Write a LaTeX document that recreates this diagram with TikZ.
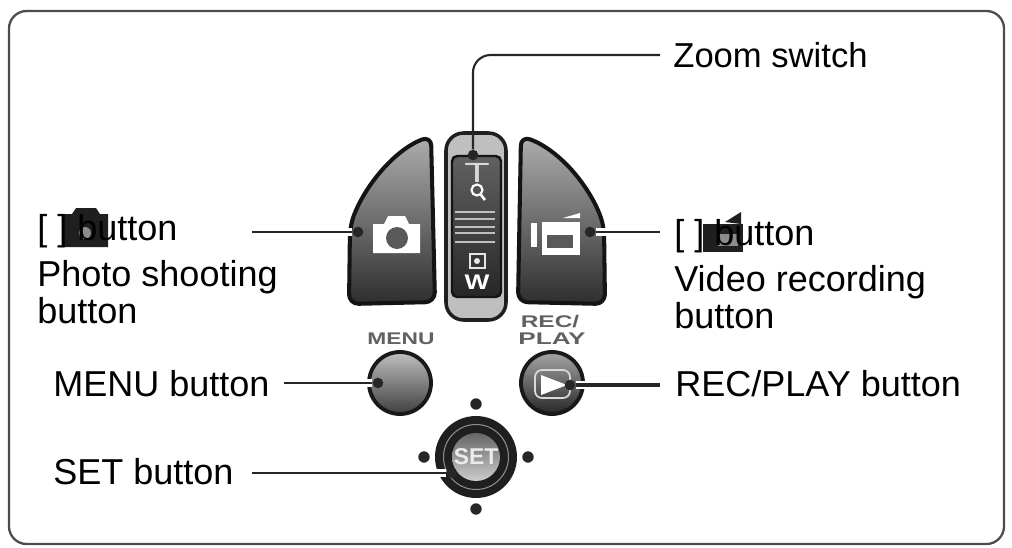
\documentclass[tikz,border=0pt]{standalone}
\usepackage{fontspec}
\setmainfont{Liberation Sans}
\usetikzlibrary{arrows}
\tikzset{
  label text/.style={anchor=base west,inner sep=0pt,black,font=\fontsize{20.5}{22}\selectfont},
  key face/.style={draw=black!92,line width=2.3pt,top color=black!32,bottom color=black!82,rounded corners=5.5pt},
  round key/.style={circle,draw=black!90,line width=2.2pt,minimum size=1.24cm,inner sep=0pt},
  leader/.style={black!85,line width=1.2pt},
  halo/.style={white,line width=5pt},
  lead dot/.style={circle,fill=black!85,inner sep=0pt,minimum size=6pt},
  set dot/.style={circle,fill=black!85,inner sep=0pt,minimum size=6.5pt},
  key print/.style={inner sep=0pt,black!62,font=\fontsize{9.6}{10}\selectfont\bfseries,transform shape},
  icon white/.style={fill=white,draw=none},
  icon dark/.style={fill=black!88,draw=none}
}
\begin{document}
\begin{tikzpicture}[x=0.02cm,y=-0.02cm]
    \useasboundingbox (0,0) rectangle (1012,548);
    \draw[black!70, line width=1.3pt, rounded corners=10pt] (9,11) rectangle (1004,544);

    % photo key
    \draw[key face] (350,226) .. controls (365,185) and (395,150) .. (431,136) -- (435,302) -- (349,304) -- cycle;
    \path[icon white] (373,224) -- (384,224) -- (388,216) -- (405,216) -- (409,224) -- (420,224) -- (420,253) -- (373,253) -- cycle;
    \fill[black!65] (397,238) circle (11);

    % video key
    \draw[key face] (604,226) .. controls (589,185) and (559,150) .. (521,136) -- (518,302) -- (605,304) -- cycle;
    \path[icon white] (542,222) rectangle (580,255);
    \path[icon white] (531,223) rectangle (537,247);
    \path[icon white] (563,218) -- (580,213) -- (580,218) -- cycle;
    \fill[black!65] (547,235) rectangle (573,248);

    % zoom switch
    \draw[black!88, line width=2pt, fill=black!25, rounded corners=10pt] (446,133) rectangle (506,320);
    \draw[black!92, line width=1.4pt, top color=black!62, bottom color=black!85, rounded corners=3pt] (452,156) rectangle (501,297);
    \node (teeletter) at (477,173) [inner sep=0pt,black!15,xscale=1.5,transform shape,font=\fontsize{15.8}{16}\selectfont] {T};
    \draw[white, line width=1.2pt] (477,190) circle (5.5);
    \draw[white, line width=1.5pt] (481,195) -- (485,200);
    \foreach \y in {212,219,227,233,242}
      \draw[black!25, line width=1pt] (455,\y) -- (495,\y);
    \draw[black!10, line width=0.7pt] (470,254) rectangle (485,268);
    \fill[black!10] (477,261) circle (3);
    \node (wideletter) at (477,282) [inner sep=0pt,white,xscale=1.25,transform shape,font=\fontsize{12}{13}\selectfont\bfseries] {W};

    % printed names
    \node (menuprint) at (401,339) [key print,xscale=1.35] {MENU};
    \node (recprint) at (550,322) [key print,xscale=1.45] {REC/};
    \node (playprint) at (552,339) [key print,xscale=1.55] {PLAY};

    % round keys
    \node (menukey) at (400,383) [round key,top color=black!25,bottom color=black!75] {};
    \node (playkey) at (552,383) [round key,top color=black!35,bottom color=black!85] {};
    \draw[black!15, line width=1pt, rounded corners=4pt] (535,370) rectangle (570,398);
    \path[icon white] (541,375) -- (541,395) -- (567,385) -- cycle;

    % set key
    \node (setring) at (476,457) [circle,fill=black!88,minimum size=1.64cm,inner sep=0pt] {};
    \node (setedge) at (476,457) [circle,draw=black!45,line width=0.6pt,minimum size=1.3cm,inner sep=0pt] {};
    \node (setkey) at (476,457) [circle,top color=black!60,bottom color=black!20,minimum size=0.96cm,inner sep=0pt,text=black!8,font=\fontsize{13}{14}\selectfont\bfseries] {SET};
    \node (setup) at (476,404) [set dot] {};
    \node (setleft) at (424,457) [set dot] {};
    \node (setright) at (528,457) [set dot] {};
    \node (setdown) at (476,509) [set dot] {};

    % label icons
    \path[icon dark] (63,214) -- (72,214) -- (76,208) -- (96,208) -- (100,214) -- (108,214) -- (108,247) -- (63,247) -- cycle;
    \fill[black!45] (85,233) circle (6);
    \path[icon dark] (703,224) rectangle (743,252);
    \path[icon dark] (725,222) -- (741,212) -- (741,224) -- cycle;
    \fill[black!45] (718,234) rectangle (738,246);

    % labels
    \node (zoomlabel) at (673,67) [label text,font=\fontsize{19.7}{22}\selectfont] {Zoom switch};
    \node (photolabel) at (37,240) [label text] {[ ] button};
    \node (phototext) at (37,286) [label text] {Photo shooting};
    \node (phototexttwo) at (37,323) [label text] {button};
    \node (videolabel) at (674,245) [label text] {[ ] button};
    \node (videotext) at (674,291) [label text] {Video recording};
    \node (videotexttwo) at (674,328) [label text] {button};
    \node (menulabel) at (53,396) [label text] {MENU button};
    \node (playlabel) at (675,396) [label text] {REC/PLAY button};
    \node (setlabel) at (53,484) [label text] {SET button};

    % leader ends
    \coordinate (zoomend) at (660,55);
    \coordinate (photoend) at (252,232);
    \coordinate (videoend) at (660,232);
    \coordinate (menuend) at (284,383);
    \coordinate (playend) at (660,385);
    \coordinate (setend) at (252,473);
    \node (zoomdot) at (473,155) [lead dot] {};
    \node (photodot) at (358,232) [lead dot] {};
    \node (videodot) at (590,232) [lead dot] {};
    \node (menudot) at (378,383) [lead dot] {};
    \node (playdot) at (570,385) [lead dot] {};
    \node (setdot) at (452,473) [lead dot] {};

    % leaders, a white edge where they cut into a key
    \draw[halo] (photodot) -- (340,232);
    \draw[halo] (videodot) -- (612,232);
    \draw[halo] (menudot) -- (362,383);
    \draw[halo] (playdot) -- (590,385);
    \draw[halo] (setdot) -- (430,473);
    \draw[leader, rounded corners=10pt] (zoomend) -- (473,55) -- (zoomdot);
    \draw[leader] (photoend) -- (photodot);
    \draw[leader] (videoend) -- (videodot);
    \draw[leader] (menuend) -- (menudot);
    \draw[leader, line width=1.8pt] (playend) -- (playdot);
    \draw[leader] (setend) -- (setdot);
\end{tikzpicture}
\end{document}
